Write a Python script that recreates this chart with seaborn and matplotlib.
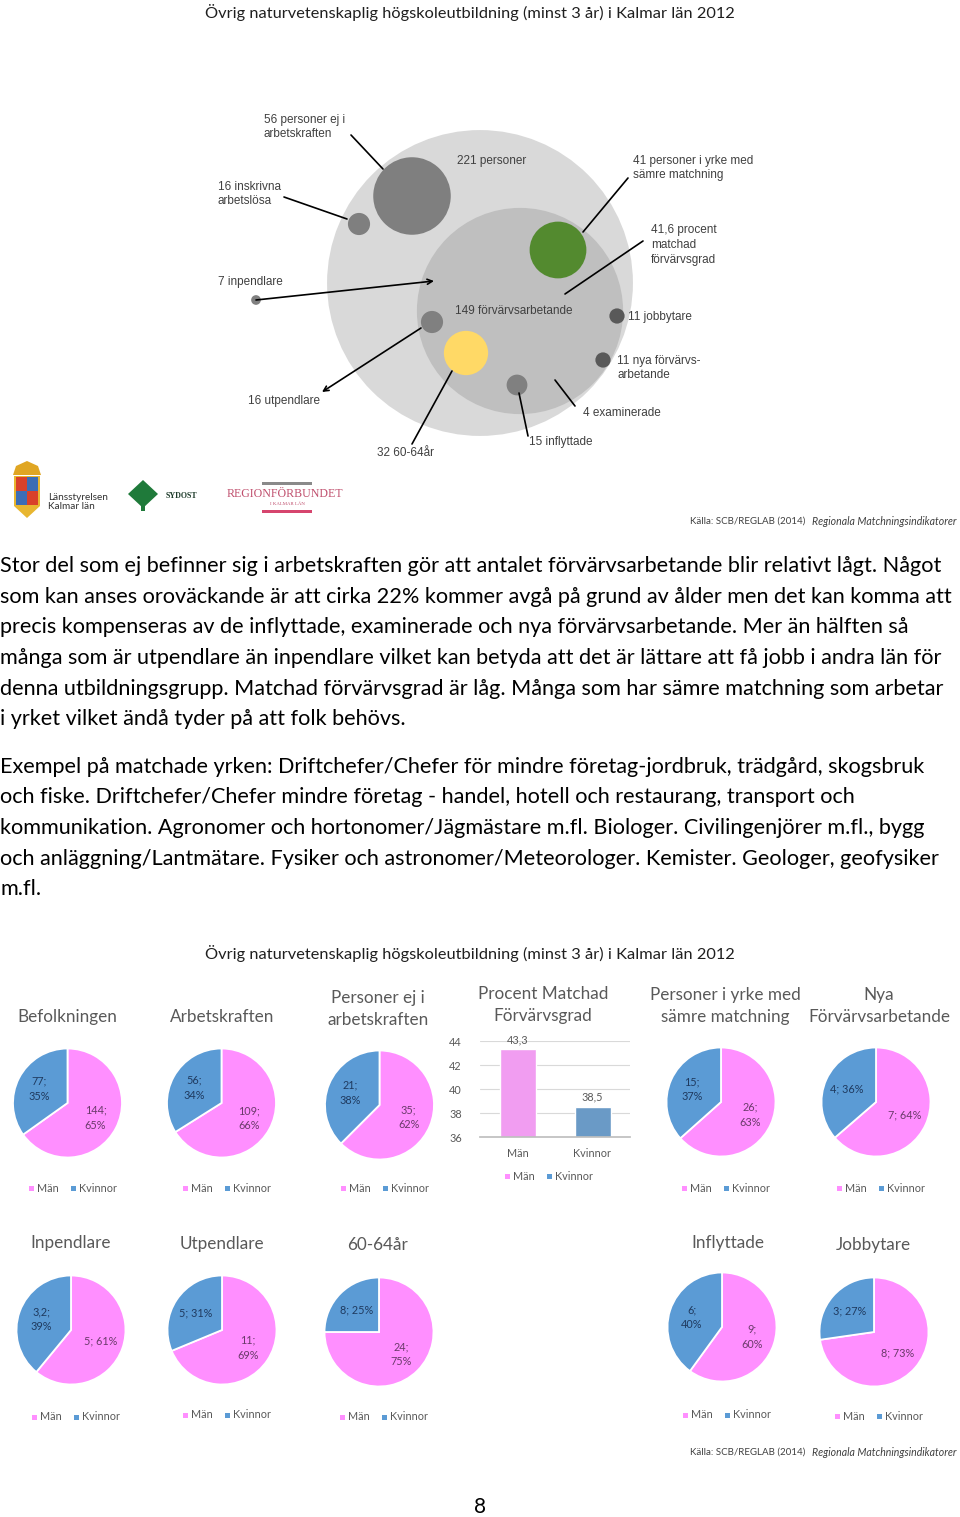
import numpy as np
import matplotlib
matplotlib.use("Agg")
import matplotlib.pyplot as plt
from matplotlib.patches import Circle, Rectangle, Polygon
import seaborn as sns
import pandas as pd

W, H = 960, 1517

# ---- data ----
title = "Övrig naturvetenskaplig högskoleutbildning (minst 3 år) i Kalmar län 2012"
source_a = "Källa: SCB/REGLAB (2014)"
source_b = "Regionala Matchningsindikatorer"

bubble_labels = ["221 personer", "149 förvärvsarbetande", "56 personer ej i\narbetskraften",
                 "16 inskrivna\narbetslösa", "41 personer i yrke med\nsämre matchning",
                 "7 inpendlare", "16 utpendlare", "32 60-64år", "15 inflyttade",
                 "11 jobbytare", "11 nya förvärvs-\narbetande"]
bubble_values = [221, 149, 56, 16, 41, 7, 16, 32, 15, 11, 11]
note_labels = ["41,6 procent\nmatchad\nförvärvsgrad", "4 examinerade"]

series = ["Män", "Kvinnor"]
pie_titles = ["Befolkningen", "Arbetskraften", "Personer ej i\narbetskraften",
              "Personer i yrke med\nsämre matchning", "Nya\nFörvärvsarbetande",
              "Inpendlare", "Utpendlare", "60-64år", "Inflyttade", "Jobbytare"]
men = [144, 109, 35, 26, 7, 5, 11, 24, 9, 8]
women = [77, 56, 21, 15, 4, 3.2, 5, 8, 6, 3]

bar_title = "Procent Matchad\nFörvärvsgrad"
bar_values = [43.3, 38.5]
bar_ticks = [36, 38, 40, 42, 44]

paragraph = [
    "Stor del som ej befinner sig i arbetskraften gör att antalet förvärvsarbetande blir relativt lågt. Något",
    "som kan anses oroväckande är att cirka 22% kommer avgå på grund av ålder men det kan komma att",
    "precis kompenseras av de inflyttade, examinerade och nya förvärvsarbetande. Mer än hälften så",
    "många som är utpendlare än inpendlare vilket kan betyda att det är lättare att få jobb i andra län för",
    "denna utbildningsgrupp. Matchad förvärvsgrad är låg. Många som har sämre matchning som arbetar",
    "i yrket vilket ändå tyder på att folk behövs.",
    "Exempel på matchade yrken: Driftchefer/Chefer för mindre företag-jordbruk, trädgård, skogsbruk",
    "och fiske. Driftchefer/Chefer mindre företag - handel, hotell och restaurang, transport och",
    "kommunikation. Agronomer och hortonomer/Jägmästare m.fl. Biologer. Civilingenjörer m.fl., bygg",
    "och anläggning/Lantmätare. Fysiker och astronomer/Meteorologer. Kemister. Geologer, geofysiker",
    "m.fl.",
]
page_number = "8"

# ---- layout ----
PINK, BLUE = "#ff8fff", "#5b9bd5"
GREY_TXT = "#595959"
bubble_xy = [(480, 283), (520, 311), (412, 196), (359, 224), (558, 250), (256, 300),
             (432, 322), (466, 353), (517, 385), (617, 316), (603, 360)]
bubble_colors = ["#d9d9d9", "#bfbfbf", "#7f7f7f", "#7f7f7f", "#538a2f", "#808080",
                 "#808080", "#ffd966", "#808080", "#595959", "#595959"]
bubble_scale = 0.692  # px radius per person
label_xy = [(457, 161), (455, 311), (264, 127), (218, 194), (633, 168), (218, 282),
            (248, 401), (377, 453), (529, 442), (628, 317), (617, 368)]
note_xy = [(651, 245), (583, 413)]
leaders = [((351, 135), (383, 169), False), ((284, 197), (347, 219), False),
           ((256, 300), (434, 281), True), ((628, 178), (583, 232), False),
           ((643, 241), (565, 294), False), ((421, 328), (322, 392), True),
           ((452, 371), (412, 444), False), ((519, 393), (528, 436), False),
           ((555, 380), (575, 406), False)]

pie_xy = [(67.5, 1103), (221.5, 1103), (379.5, 1105), (721, 1102), (876, 1102),
          (71, 1330), (222, 1330), (379, 1332), (722, 1327), (874, 1332)]
pie_r = 54.5
pie_title_xy = [(67, 1017), (222, 1017), (378, 1009), (725, 1006), (879, 1006),
                (71, 1243), (222, 1244), (378, 1245), (728, 1243), (873, 1245)]
legend_y = [1188, 1188, 1188, 1188, 1188, 1417, 1415, 1417, 1415, 1416]
label_seps = [("\n", "\n"), ("\n", "\n"), ("\n", "\n"), ("\n", "\n"), (" ", " "),
              (" ", "\n"), ("\n", " "), ("\n", " "), ("\n", "\n"), (" ", " ")]
text_y = [566, 597, 627, 658, 689, 719, 767, 797, 828, 859, 889]

sns.set_theme(style="white")
BODY = ["Lato", "DejaVu Sans"]
ARIAL = ["Liberation Sans", "DejaVu Sans"]
SERIF = ["Liberation Serif", "DejaVu Serif"]
plt.rcParams["font.family"] = BODY

fig = plt.figure(figsize=(W / 100, H / 100), dpi=100)
fig.patch.set_facecolor("white")
page = fig.add_axes([0, 0, 1, 1])
page.set_xlim(0, W)
page.set_ylim(H, 0)
page.axis("off")


def px_axes(x0, y0, w, h):
    return fig.add_axes([x0 / W, 1 - (y0 + h) / H, w / W, h / H])


def fmt(v):
    return str(int(v)) if float(v).is_integer() else str(v).replace(".", ",")


def legend(cx, cy):
    page.add_patch(Rectangle((cx - 42, cy - 2.5), 5, 5, color=PINK, lw=0))
    page.text(cx - 34, cy, series[0], fontsize=7.8, color=GREY_TXT, va="center")
    page.add_patch(Rectangle((cx, cy - 2.5), 5, 5, color=BLUE, lw=0))
    page.text(cx + 8, cy, series[1], fontsize=7.8, color=GREY_TXT, va="center")


# ---- titles ----
for ty in (12, 953):
    page.text(470, ty, title, ha="center", va="center", fontsize=11.8, color="#1f1f1f")

# ---- bubble diagram ----
for (x, y), v, c in zip(bubble_xy, bubble_values, bubble_colors):
    page.add_patch(Circle((x, y), v * bubble_scale, color=c, lw=0))
for (x, y), lab in zip(label_xy, bubble_labels):
    page.text(x, y, lab, fontsize=8.5, color="#404040", va="center", family=ARIAL,
              linespacing=1.3)
for (x, y), lab in zip(note_xy, note_labels):
    page.text(x, y, lab, fontsize=8.5, color="#404040", va="center", family=ARIAL,
              linespacing=1.3)
for p0, p1, arrow in leaders:
    if arrow:
        page.annotate("", xy=p1, xytext=p0,
                      arrowprops=dict(arrowstyle="->", color="black", lw=1.2,
                                      shrinkA=0, shrinkB=0, mutation_scale=9))
    else:
        page.plot([p0[0], p1[0]], [p0[1], p1[1]], color="black", lw=1.2)

# ---- logos (simplified) ----
page.add_patch(Polygon([(14, 476), (14, 506), (27, 518), (40, 506), (40, 476)],
                       closed=True, color="#e8b630", lw=0))
page.add_patch(Rectangle((16, 477), 11, 14, color="#d9412a", lw=0))
page.add_patch(Rectangle((27, 477), 11, 14, color="#3c6db5", lw=0))
page.add_patch(Rectangle((16, 491), 11, 14, color="#3c6db5", lw=0))
page.add_patch(Rectangle((27, 491), 11, 14, color="#d9412a", lw=0))
page.add_patch(Polygon([(13, 475), (16, 466), (27, 461), (38, 466), (41, 475)],
                       closed=True, color="#e0a623", lw=0))
page.text(48, 502, "Länsstyrelsen\nKalmar län", fontsize=7.2, color="#333333",
          va="center", linespacing=1.1)
page.add_patch(Polygon([(128, 494), (143, 480), (158, 494), (143, 508)],
                       closed=True, color="#1f7a3a", lw=0))
page.add_patch(Rectangle((141, 500), 4, 11, color="#1f7a3a", lw=0))
page.text(166, 496, "SYDOST", fontsize=5.8, color="#1d3b2a", va="center",
          family=SERIF, weight="bold")
page.add_patch(Rectangle((262, 482), 50, 3, color="#8a8a8a", lw=0))
page.text(227, 494, "REGIONFÖRBUNDET", fontsize=8.6, color="#c0506e", va="center",
          family=SERIF)
page.text(287, 504, "I KALMAR LÄN", fontsize=3.5, color="#c0506e", va="center",
          ha="center", family=SERIF)
page.add_patch(Rectangle((262, 510), 50, 3, color="#d6456e", lw=0))

for sy in (521, 1452):
    page.text(690, sy, source_a, fontsize=7, color="#404040", va="center")
    page.text(957, sy, source_b, fontsize=7.6, color="#404040", va="center",
              ha="right", style="italic")

# ---- paragraph ----
for y, line in zip(text_y, paragraph):
    page.text(0, y, line, fontsize=15.55, color="black", va="center")
page.text(480, 1507, page_number, fontsize=15, color="black", ha="center", va="center")

# ---- pies ----
for i, (title_i, m, w) in enumerate(zip(pie_titles, men, women)):
    cx, cy = pie_xy[i]
    rr = pie_r * 1.03
    ax = px_axes(cx - rr, cy - rr, 2 * rr, 2 * rr)
    wedges, _ = ax.pie([m, w], colors=[PINK, BLUE], startangle=90, counterclock=False,
                       wedgeprops=dict(edgecolor="white", linewidth=1.3))
    ax.set_xlim(-1.03, 1.03)
    ax.set_ylim(-1.03, 1.03)
    total = m + w
    for wedge, v, sep, tc in zip(wedges, [m, w], label_seps[i], ["#6a3a6a", "#1f3a5f"]):
        ang = np.deg2rad((wedge.theta1 + wedge.theta2) / 2)
        pct = int(round(100 * v / total))
        ax.text(0.58 * np.cos(ang), 0.58 * np.sin(ang), f"{fmt(v)};{sep}{pct}%",
                ha="center", va="center", fontsize=7.8, color=tc, linespacing=1.45)
    tx, ty = pie_title_xy[i]
    page.text(tx, ty, title_i, ha="center", va="center", fontsize=12.3,
              color=GREY_TXT, linespacing=1.4)
    legend(cx + 3, legend_y[i])

# ---- bar chart ----
bar_df = pd.DataFrame({"kon": series, "grad": bar_values})
bx = px_axes(480, 1041, 150, 96)
sns.barplot(data=bar_df, x="kon", y="grad", hue="kon", palette=[PINK, BLUE],
            width=0.48, ax=bx, legend=False)
bx.set_ylim(bar_ticks[0], bar_ticks[-1])
bx.set_yticks(bar_ticks)
bx.yaxis.grid(True, color="#d9d9d9", lw=0.8)
bx.set_axisbelow(True)
for s in ["top", "left", "right"]:
    bx.spines[s].set_visible(False)
bx.spines["bottom"].set_color("#bfbfbf")
bx.set_xlabel("")
bx.set_ylabel("")
bx.tick_params(axis="both", length=0, labelsize=7.8, labelcolor=GREY_TXT, pad=8)
bx.tick_params(axis="y", pad=13)
for cont in bx.containers:
    bx.bar_label(cont, labels=[fmt(v) for v in cont.datavalues], fontsize=7.8,
                 color=GREY_TXT, padding=3, clip_on=False)
page.text(543, 1005, bar_title, ha="center", va="center", fontsize=12.3,
          color=GREY_TXT, linespacing=1.4)
legend(547, 1176)

fig.savefig("out.png", dpi=100, facecolor="white")
